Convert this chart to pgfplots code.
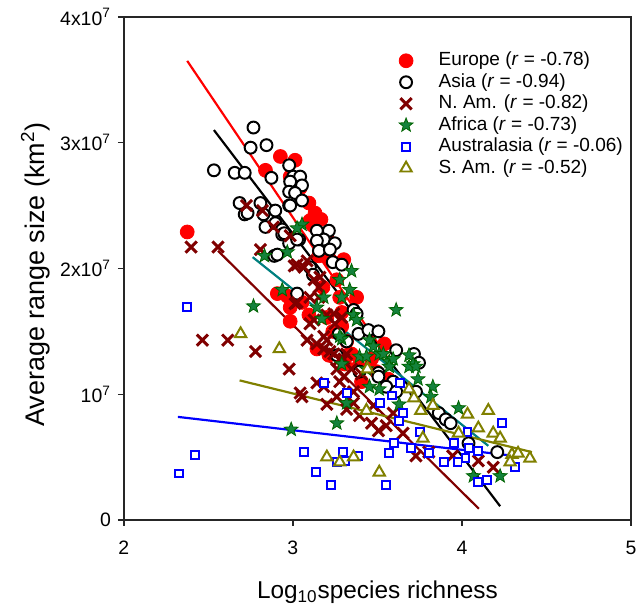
\documentclass[border=0pt]{standalone}
\usepackage{fontspec}
\setmainfont{Liberation Sans}
\usepackage{pgfplots}
\pgfplotsset{compat=1.18}
\usetikzlibrary{plotmarks}

\definecolor{eur}{RGB}{255,0,0}
\definecolor{nam}{RGB}{128,0,0}
\definecolor{afrfill}{RGB}{20,130,60}
\definecolor{afrdraw}{RGB}{0,100,0}
\definecolor{afrline}{RGB}{0,128,128}
\definecolor{aus}{RGB}{0,0,255}
\definecolor{sam}{RGB}{128,128,0}

% filled five-pointed star
\pgfdeclareplotmark{fstar}{%
  \pgfpathmoveto{\pgfpointpolar{90}{1\pgfplotmarksize}}%
  \pgfpathlineto{\pgfpointpolar{126}{0.42\pgfplotmarksize}}%
  \pgfpathlineto{\pgfpointpolar{162}{1\pgfplotmarksize}}%
  \pgfpathlineto{\pgfpointpolar{198}{0.42\pgfplotmarksize}}%
  \pgfpathlineto{\pgfpointpolar{234}{1\pgfplotmarksize}}%
  \pgfpathlineto{\pgfpointpolar{270}{0.42\pgfplotmarksize}}%
  \pgfpathlineto{\pgfpointpolar{306}{1\pgfplotmarksize}}%
  \pgfpathlineto{\pgfpointpolar{342}{0.42\pgfplotmarksize}}%
  \pgfpathlineto{\pgfpointpolar{18}{1\pgfplotmarksize}}%
  \pgfpathlineto{\pgfpointpolar{54}{0.42\pgfplotmarksize}}%
  \pgfpathclose
  \pgfusepathqfillstroke}

% range size in units of 10^6 km^2
\begin{document}
\begin{tikzpicture}
\begin{axis}[
  name=ax,
  scale only axis, width=256pt, height=254pt,
  xmin=2, xmax=5, ymin=0, ymax=40,
  xtick={2,3,4,5}, ytick={0,10,20,30,40},
  yticklabels={0,10\textsuperscript{7},2x10\textsuperscript{7},3x10\textsuperscript{7},4x10\textsuperscript{7}},
  /pgf/number format/assume math mode=true,
  xtick pos=left, ytick pos=left, tick align=outside,
  major tick length=3pt,
  axis line style={line width=0.7pt, black!85},
  every tick/.style={line width=0.7pt, black!85},
  tick label style={font=\fontsize{9.8}{11}\selectfont},
  xticklabel style={yshift=-4pt},
  xlabel={Log\textsubscript{10}species richness},
  ylabel={Average range size (km\textsuperscript{2})},
  xlabel style={font=\fontsize{12.3}{14}\selectfont, at={(axis description cs:0.5,-0.144)}, anchor=center},
  ylabel style={font=\fontsize{13.6}{15}\selectfont, at={(axis description cs:-0.174,0.488)}, anchor=center},
  legend style={at={(rel axis cs:0.5195,0.932)}, anchor=north west,
    draw=none, fill=none, inner sep=0pt,
    font=\fontsize{9.6}{11}\selectfont,
    nodes={inner sep=0pt, text height=7.2pt, text depth=2.2pt},
    row sep=1.45pt,
    /tikz/every odd column/.append style={column sep=7.2pt}},
  legend cell align=left,
  legend image code/.code={\path (-0.3cm,0) (0.3cm,0); \draw[#1] plot coordinates {(0cm,0cm)};},
]
\coordinate (bl) at (rel axis cs:0,0);
\coordinate (tr) at (rel axis cs:1,1);

% Europe
\addplot[only marks, mark=*, mark size=3.5pt, color=eur] table {
x y
2.375 22.9
2.838 27.8
2.926 28.9
3.013 28.6
2.984 27.3
3.043 26.4
3.095 25.2
3.131 24.4
3.166 23.9
3.119 23.4
3.101 23.8
3.201 22.4
3.154 21.0
3.219 20.7
3.301 20.7
3.260 19.1
3.178 18.5
3.277 17.7
3.377 17.7
2.908 18.0
2.967 17.8
2.984 16.9
2.984 15.8
3.054 17.3
3.095 16.3
3.201 16.1
3.289 16.5
3.236 15.0
3.289 15.4
3.318 14.2
3.347 13.2
3.336 13.2
3.142 13.6
3.213 13.1
3.388 12.2
3.465 12.8
3.494 11.8
3.541 14.0
3.564 11.2
3.306 12.4
3.406 11.0
};
\addlegendentry{Europe (\textit{r} = -0.78)}

% Asia
\addplot[only marks, mark=*, mark size=3.0pt, line width=1pt, draw=black, fill=white] table {
x y
2.767 31.2
2.750 29.6
2.844 29.8
2.533 27.8
2.656 27.6
2.715 27.6
2.873 27.2
2.978 28.2
3.002 27.3
3.043 27.3
2.984 26.9
3.054 26.6
2.978 26.1
3.013 26.0
3.054 25.4
2.978 25.0
2.685 25.2
2.715 24.3
2.808 25.2
2.896 24.6
2.826 24.3
2.838 23.3
2.896 23.6
2.937 23.1
2.732 24.4
2.937 22.7
2.984 25.0
2.978 22.0
3.037 22.3
2.890 21.0
3.142 23.0
3.213 23.0
3.183 22.3
3.248 22.0
3.142 22.2
3.154 21.4
3.219 21.5
3.236 20.5
3.289 20.3
3.101 20.1
3.119 19.5
2.949 22.8
3.025 22.3
3.025 18.0
2.908 21.1
3.359 16.7
3.377 16.4
3.271 14.8
3.388 14.8
3.447 15.1
3.506 15.0
3.318 14.2
3.611 13.5
3.716 13.2
3.746 12.5
3.260 13.1
3.506 11.7
3.593 11.0
3.394 11.8
3.506 11.4
3.552 10.6
3.611 10.2
3.728 10.2
3.863 8.5
3.904 8.0
3.933 7.7
4.039 6.1
4.209 5.4
};
\addlegendentry{Asia (\textit{r} = -0.94)}

% N. America
\addplot[only marks, mark=x, mark size=4.0pt, line width=1.5pt, color=nam] table {
x y
2.398 21.7
2.557 21.7
2.726 25.0
2.820 24.6
2.885 23.3
2.984 22.6
2.808 21.5
3.008 20.2
3.025 20.3
3.084 20.6
3.066 20.1
3.125 19.1
3.160 19.3
3.154 18.5
3.101 17.7
3.025 17.3
3.154 17.7
3.013 17.2
3.242 16.4
3.201 16.3
3.289 16.1
3.248 15.6
3.125 15.9
3.101 15.6
3.084 14.3
3.142 14.0
3.201 14.3
3.183 14.6
3.183 13.6
3.219 13.4
3.242 13.2
3.277 12.8
3.301 12.8
3.318 13.2
3.260 12.0
3.347 12.0
3.406 11.6
3.301 11.4
3.277 11.0
2.465 14.3
2.615 14.3
2.779 13.4
2.978 12.0
3.043 10.1
3.142 10.9
3.054 9.8
3.183 10.6
3.359 10.2
3.260 9.8
3.201 9.2
3.359 9.3
3.476 9.1
3.318 8.8
3.394 8.3
3.593 8.5
3.465 7.7
3.552 7.5
3.506 7.1
3.652 6.9
3.728 5.1
3.804 5.4
3.945 5.1
4.097 4.7
4.185 4.2
};
\addlegendentry{N. Am. (\textit{r} = -0.82)}

% Africa
\addplot[only marks, mark=fstar, mark size=3.7pt, line width=0.4pt, draw=afrdraw, fill=afrfill] table {
x y
3.054 23.5
3.025 23.2
2.832 21.0
2.967 21.3
3.347 19.8
3.277 19.1
3.336 18.3
3.289 17.7
2.937 18.3
2.767 17.0
3.183 17.7
3.142 16.9
3.172 16.0
3.359 16.3
3.377 15.9
3.611 16.7
3.289 14.4
3.277 14.6
3.453 14.3
3.476 13.8
3.394 13.0
3.435 13.0
3.511 13.2
3.535 13.2
3.570 12.6
3.593 12.8
3.289 12.4
3.435 12.0
3.570 12.2
3.687 13.1
3.711 12.4
3.687 12.2
3.728 12.2
3.740 11.2
3.453 10.6
3.511 10.4
3.828 10.6
3.816 9.8
3.629 9.2
3.318 9.3
3.260 7.7
3.980 8.9
2.990 7.2
4.068 3.5
4.226 3.5
};
\addlegendentry{Africa (\textit{r} = -0.73)}

% Australasia
\addplot[only marks, mark=square*, mark size=2.0pt, line width=1pt, draw=aus, fill=white] table {
x y
2.375 16.9
2.422 5.2
2.328 3.7
3.066 5.4
3.136 3.8
3.183 10.9
3.318 10.1
3.517 9.3
3.588 9.9
3.634 10.9
3.652 8.5
3.629 7.9
3.752 7.0
3.951 6.1
4.033 7.0
4.039 5.7
4.097 5.5
4.238 7.7
3.599 6.1
3.699 5.7
3.804 5.3
3.892 4.6
3.974 4.6
4.021 4.9
4.097 3.0
4.150 3.2
4.314 4.2
3.552 2.8
3.224 2.8
3.295 5.4
3.306 4.7
3.260 4.6
3.388 5.1
3.570 5.3
};
\addlegendentry{Australasia (\textit{r} = -0.06)}

% S. America
\addplot[only marks, mark=triangle*, mark size=3.3pt, line width=1pt, draw=sam, fill=white] table {
x y
2.691 14.8
2.920 13.6
3.441 12.0
3.687 10.4
3.716 9.7
3.828 9.1
3.757 8.7
3.435 8.7
3.769 6.5
4.033 8.4
4.156 8.7
4.097 7.3
3.980 6.9
4.185 6.9
4.226 6.5
4.296 5.2
4.402 4.9
4.332 5.3
4.285 4.6
3.201 5.0
3.277 4.6
3.359 5.0
3.511 3.8
};
\addlegendentry{S. Am. (\textit{r} = -0.52)}

% regression lines
\addplot[forget plot, eur, line width=1.1pt] coordinates {(2.375,36.5) (3.57,12.7)};
\addplot[forget plot, black, line width=1.1pt] coordinates {(2.533,31.0) (4.226,1.1)};
\addplot[forget plot, nam, line width=1.1pt] coordinates {(2.557,21.4) (4.10,0.9)};
\addplot[forget plot, afrline, line width=1.1pt] coordinates {(2.762,20.9) (4.156,5.9)};
\addplot[forget plot, aus, line width=1.1pt] coordinates {(2.32,8.2) (4.31,5.1)};
\addplot[forget plot, sam, line width=1.1pt] coordinates {(2.685,11.1) (4.414,5.4)};
\end{axis}
\path ([shift={(-62.5pt,-44.5pt)}]bl) rectangle ([shift={(3pt,8.5pt)}]tr);
\end{tikzpicture}
\end{document}
